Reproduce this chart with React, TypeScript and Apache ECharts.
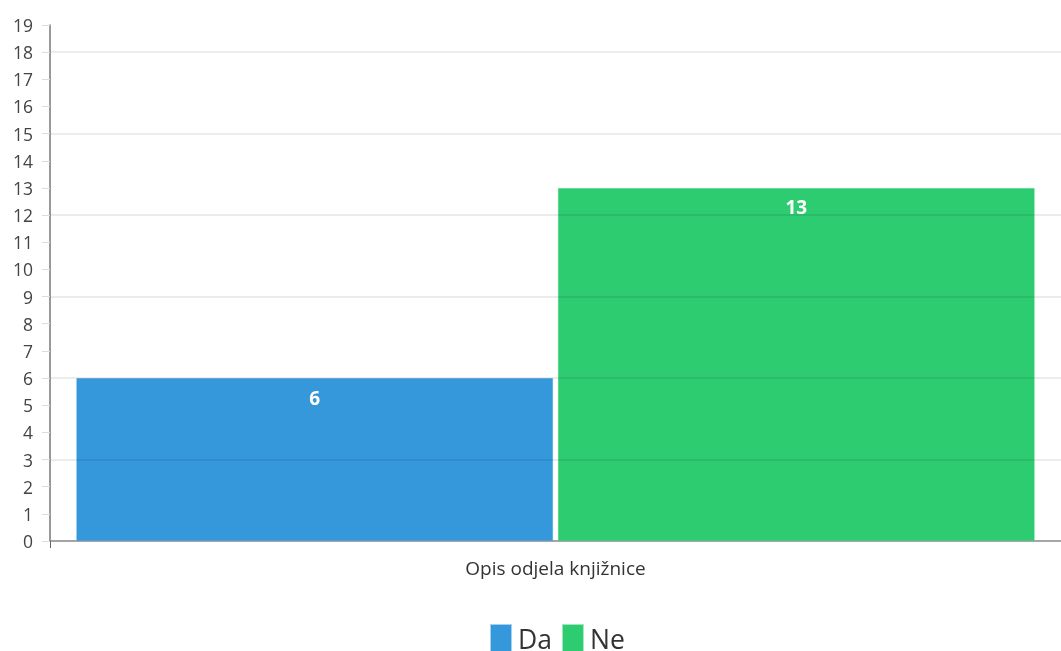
import React, { useEffect, useRef } from "react";
import * as echarts from "echarts";

const categories = ["Opis odjela knjižnice"];
const seriesNames = ["Da", "Ne"];
const daValues = [6];
const neValues = [13];
const seriesColors = ["#3498db", "#2ecc71"];
const seriesBorders = ["rgba(52,152,219,0.45)", "rgba(46,204,113,0.45)"];
const yMin = 0;
const yMax = 19;
const yInterval = 1;
const gridLineValues = [3, 6, 9, 12, 15, 18];

export default function App() {
  const ref = useRef<HTMLDivElement>(null);
  useEffect(() => {
    if (!ref.current) return;
    const chart = echarts.init(ref.current, null, { renderer: "svg" });
    const font = "'Open Sans', sans-serif";
    const values = [daValues, neValues];
    chart.setOption({
      animation: false,
      textStyle: { fontFamily: font },
      grid: { left: 50, right: 0, top: 25, bottom: 110, containLabel: false },
      legend: {
        top: 624,
        left: 490,
        padding: 0,
        itemWidth: 20,
        itemHeight: 27,
        itemGap: 10,
        icon: "rect",
        textStyle: {
          fontSize: 26.5,
          lineHeight: 24,
          color: "#333",
          fontFamily: font,
          padding: [0, 0, 0, 2],
        },
        data: seriesNames,
      },
      xAxis: {
        type: "category",
        data: categories,
        axisLine: { show: true, lineStyle: { color: "#888", width: 1.5 } },
        axisTick: { show: true, length: 7, lineStyle: { color: "#666" } },
        axisLabel: { fontSize: 19, color: "#333", margin: 17, fontFamily: font },
      },
      yAxis: {
        type: "value",
        min: yMin,
        max: yMax,
        interval: yInterval,
        axisLine: { show: true, lineStyle: { color: "#777", width: 1.5 } },
        axisTick: { show: true, length: 8, lineStyle: { color: "#ddd" } },
        axisLabel: { fontSize: 17.5, color: "#444", margin: 17, fontFamily: font },
        splitLine: { show: false },
      },
      series: seriesNames.map((name, i) => ({
        name,
        type: "bar",
        data: values[i],
        barCategoryGap: "5.2%",
        barGap: "1%",
        itemStyle: {
          color: seriesColors[i],
          borderColor: seriesBorders[i],
          borderWidth: 1,
        },
        label: {
          show: true,
          position: "insideTop",
          distance: 10,
          color: "#fff",
          fontWeight: "bold",
          fontSize: 19,
          fontFamily: font,
        },
        markLine:
          i === 0
            ? {
                silent: true,
                symbol: "none",
                label: { show: false },
                lineStyle: { color: "rgba(0,0,0,0.1)", type: "solid", width: 1.5 },
                data: gridLineValues.map((v) => ({ yAxis: v })),
              }
            : undefined,
      })),
    });
    return () => chart.dispose();
  }, []);
  return (
    <div
      ref={ref}
      style={{ position: "fixed", left: 0, top: 0, width: 1061, height: 651 }}
    />
  );
}
